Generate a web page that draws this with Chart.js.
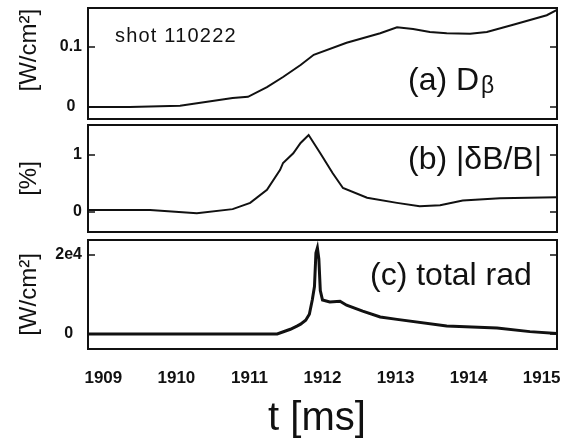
<!DOCTYPE html>
<html><head><meta charset="utf-8">
<script src="https://cdn.jsdelivr.net/npm/chart.js@4.4.1/dist/chart.umd.min.js"></script>
<style>
html,body{margin:0;padding:0;background:#fff;}
#wrap{position:relative;width:565px;height:444px;overflow:hidden;background:#fff;}
canvas{position:absolute;left:0;}
</style></head><body>
<div id="wrap">
<canvas id="ca" width="565" height="122" style="top:0;width:565px;height:122px"></canvas>
<canvas id="cb" width="565" height="112" style="top:122px;width:565px;height:112px"></canvas>
<canvas id="cc" width="565" height="210" style="top:234px;width:565px;height:210px"></canvas>
</div>
<script>
// ---- data ----
const timeA = [1908.80, 1909.36, 1910.05, 1910.77, 1910.98, 1911.24, 1911.46, 1911.70, 1911.88, 1912.33, 1912.79, 1913.02, 1913.24, 1913.47, 1913.70, 1914.02, 1914.25, 1914.61, 1915.07, 1915.21];
const dBeta = [0.000, 0.000, 0.002, 0.015, 0.017, 0.033, 0.050, 0.070, 0.087, 0.107, 0.123, 0.133, 0.130, 0.125, 0.123, 0.122, 0.125, 0.137, 0.153, 0.162];

const timeB = [1908.80, 1909.64, 1910.28, 1910.77, 1911.01, 1911.24, 1911.42, 1911.46, 1911.60, 1911.70, 1911.81, 1911.97, 1912.14, 1912.28, 1912.61, 1913.02, 1913.33, 1913.61, 1913.92, 1914.43, 1915.21];
const dBoverB = [0.035, 0.035, -0.02, 0.05, 0.16, 0.39, 0.74, 0.86, 1.03, 1.21, 1.35, 1.03, 0.68, 0.42, 0.25, 0.16, 0.10, 0.12, 0.20, 0.24, 0.26];

const timeC = [1908.80, 1911.38, 1911.56, 1911.65, 1911.70, 1911.77, 1911.82, 1911.86, 1911.89, 1911.91, 1911.93, 1911.95, 1911.97, 1912.00, 1912.10, 1912.24, 1912.33, 1912.55, 1912.79, 1913.02, 1913.70, 1914.39, 1914.84, 1915.21];
const totalRad = [0, 0, 1200, 2000, 2500, 3500, 5000, 8600, 12000, 20500, 21800, 19000, 11000, 8600, 8100, 8300, 7300, 5800, 4300, 3700, 2000, 1500, 600, 100];

const xTicks = [1909, 1910, 1911, 1912, 1913, 1914, 1915];
const xTickLabels = ['1909', '1910', '1911', '1912', '1913', '1914', '1915'];
const yTicksA = [0, 0.1];   const yTickLabelsA = ['0', '0.1'];
const yTicksB = [0, 1];     const yTickLabelsB = ['0', '1'];
const yTicksC = [0, 20000]; const yTickLabelsC = ['0', '2e4'];

const X_MIN = 1908.79, X_MAX = 1915.21;

Chart.defaults.font.family = "'Liberation Sans', Arial, sans-serif";
Chart.defaults.color = '#111';

const boxPlugin = {
  id: 'annot',
  afterDatasetsDraw(chart) {
    const {ctx, chartArea: a, scales} = chart;
    ctx.save();
    ctx.strokeStyle = '#111';
    ctx.lineWidth = 2;
    ctx.strokeRect(a.left, a.top, a.right - a.left, a.bottom - a.top);
    ctx.lineWidth = 1.6;
    scales.y.ticks.forEach(t => {
      const py = scales.y.getPixelForValue(t.value);
      ctx.beginPath();
      ctx.moveTo(a.left, py); ctx.lineTo(a.left + 7, py);
      ctx.moveTo(a.right, py); ctx.lineTo(a.right - 7, py);
      ctx.stroke();
    });
    const o = chart.options.plugins.annot || {};
    ctx.fillStyle = '#111';
    ctx.textBaseline = 'alphabetic';
    ctx.textAlign = 'left';
    (o.items || []).forEach(it => {
      ctx.font = it.size + "px 'Liberation Sans', Arial, sans-serif";
      ctx.letterSpacing = it.spacing || '0px';
      ctx.fillText(it.text, it.x, it.y);
      if (it.sub) {
        const w = ctx.measureText(it.text).width;
        ctx.font = it.subSize + "px 'Liberation Sans', Arial, sans-serif";
        ctx.fillText(it.sub, it.x + w + 2, it.y + it.subDy);
      }
    });
    ctx.letterSpacing = '0px';
    ctx.restore();
  }
};

function yAxis(min, max, ticks, labels, title) {
  return {
    type: 'linear', min: min, max: max,
    afterFit: s => { s.width = 88; s.paddingTop = 0; s.paddingBottom = 0; },
    afterBuildTicks: s => { s.ticks = ticks.map(v => ({value: v})); },
    ticks: {
      callback: (v, i) => labels[i],
      crossAlign: 'center', padding: 6,
      font: {size: 16, weight: 'bold'}, color: '#111'
    },
    grid: {display: false, drawTicks: false}, border: {display: false},
    title: {display: true, text: title, font: {size: 24}, padding: {top: 15}, color: '#111'}
  };
}

function makeChart(id, xs, ys, lw, padding, yCfg, xCfg, items) {
  return new Chart(document.getElementById(id), {
    type: 'line',
    data: {
      datasets: [{
        data: xs.map((x, i) => ({x: x, y: ys[i]})),
        borderColor: '#111', borderWidth: lw, pointRadius: 0,
        tension: 0, fill: false
      }]
    },
    options: {
      responsive: false, animation: false, devicePixelRatio: 1,
      layout: {padding: padding},
      plugins: {legend: {display: false}, tooltip: {enabled: false}, annot: {items: items}},
      scales: {x: xCfg, y: yCfg}
    },
    plugins: [boxPlugin]
  });
}

const hiddenX = {type: 'linear', min: X_MIN, max: X_MAX, display: false};

makeChart('ca', timeA, dBeta, 2,
  {top: 8, bottom: 3, left: 0, right: 8},
  yAxis(-0.02, 0.165, yTicksA, yTickLabelsA, '    [W/cm\u00B2]'),
  hiddenX,
  [{text: 'shot 110222', x: 115, y: 42, size: 20, spacing: '1.2px'},
   {text: '(a) D', x: 408, y: 90, size: 32, sub: '\u03B2', subSize: 23, subDy: 3}]);

makeChart('cb', timeB, dBoverB, 2,
  {top: 3, bottom: 2, left: 0, right: 8},
  yAxis(-0.351, 1.526, yTicksB, yTickLabelsB, '[%]'),
  hiddenX,
  [{text: '(b) |\u03B4B/B|', x: 408, y: 169 - 122, size: 32}]);

makeChart('cc', timeC, totalRad, 3,
  {top: 6, bottom: 0, left: 0, right: 8},
  yAxis(-3800, 23800, yTicksC, yTickLabelsC, '[W/cm\u00B2]'),
  {
    type: 'linear', min: X_MIN, max: X_MAX,
    afterFit: s => { s.height = 95; s.paddingLeft = 0; s.paddingRight = 0; },
    afterBuildTicks: s => { s.ticks = xTicks.map(v => ({value: v})); },
    ticks: {callback: (v, i) => xTickLabels[i], padding: 19, maxRotation: 0, autoSkip: false,
            font: {size: 17, weight: 'bold'}, color: '#111'},
    grid: {display: false, drawTicks: false}, border: {display: false},
    title: {display: true, text: 't [ms] ', font: {size: 40}, padding: {top: 0, bottom: 1}, color: '#111'}
  },
  [{text: '(c) total rad', x: 370, y: 285 - 234, size: 32}]);
</script>
</body></html>
